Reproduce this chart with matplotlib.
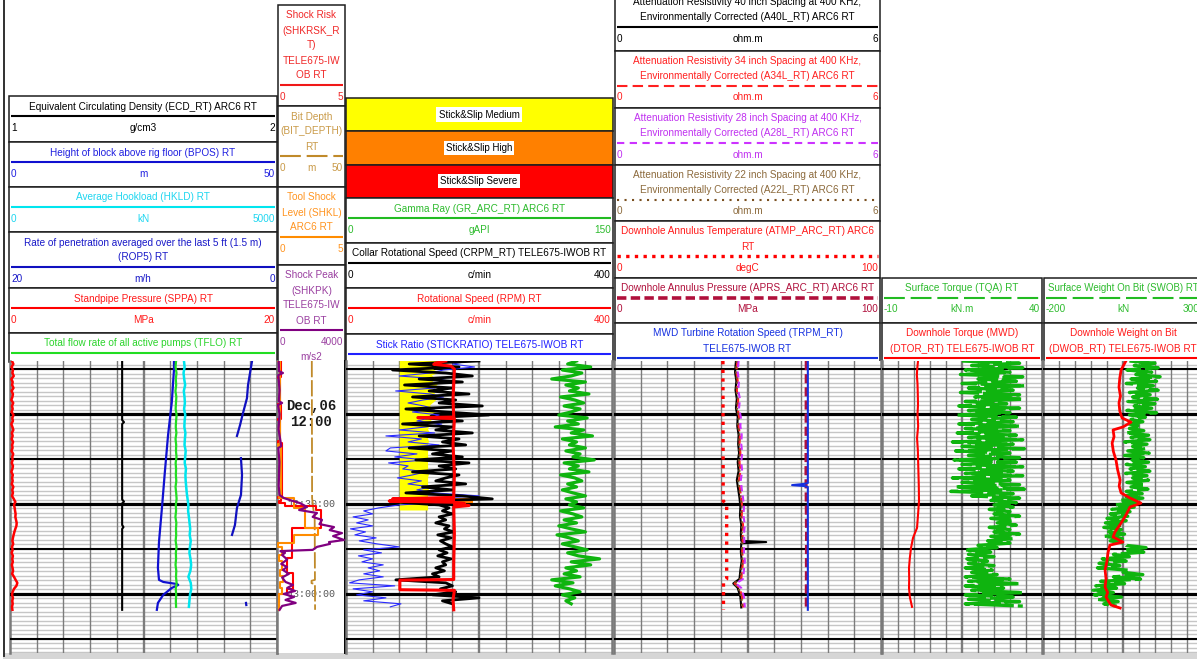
import numpy as np
import matplotlib
matplotlib.use("Agg")
import matplotlib.pyplot as plt
from matplotlib.patches import Rectangle

# ------------------------------------------------------------------
# Time index: minutes after Dec 06 12:00 (increasing downwards)
# ------------------------------------------------------------------
time_marks = [0, 30, 60]
time_mark_labels = ["Dec,06\n12:00", "12:30:00", "13:00:00"]

# ------------------------------------------------------------------
# Track 1 headers and scales
# ------------------------------------------------------------------
t1_titles = ["Equivalent Circulating Density (ECD_RT) ARC6 RT",
             "Height of block above rig floor (BPOS) RT",
             "Average Hookload (HKLD) RT",
             "Rate of penetration averaged over the last 5 ft (1.5 m)\n(ROP5) RT",
             "Standpipe Pressure (SPPA) RT",
             "Total flow rate of all active pumps (TFLO) RT"]
t1_units = ["g/cm3", "m", "kN", "m/h", "MPa", "L/min"]
t1_lo = [1, 0, 0, 20, 0, 0]
t1_hi = [2, 50, 5000, 0, 20, 5000]
t1_scale_shown = [True, True, True, True, True, False]

# ECD (g/cm3)
ecd_t = [-17.7, 2, 2.7, 3.3, 28.5, 29.2, 29.8, 37, 37.7, 38.3, 65.3]
ecd = [1.42, 1.42, 1.427, 1.42, 1.42, 1.427, 1.42, 1.42, 1.425, 1.42, 1.42]
# Block position (m)
bpos_t = [-17.7, -14.7, -4, 7, 19.3, 30.3, 42.7, 51.3, 55.3, 56, 56.7, 57, 58, 60.3, 63, 65.3]
bpos = [30.7, 30.7, 30.3, 29.6, 29.0, 28.5, 27.9, 27.7, 27.9, 28.7, 31.3, 31.5, 30.3, 28.7, 27.7, 27.5]
# ROP5 (m/h), gaps where no value was logged
rop5_t = [-17.7, -9.7, -5.3, -0.3, 3.7, 7.3, np.nan, 14.7, 20.3, 27, 31.3, 37, 40.3, np.nan, 63, 63.7]
rop5 = [1.87, 2.17, 2.25, 2.55, 2.77, 3.0, np.nan, 2.7, 2.62, 2.7, 3.0, 3.15, 3.37, np.nan, 2.32, 2.3]
# Standpipe pressure (MPa), one sample per minute
sppa_t0, sppa_dt = -17.7, 1.0
sppa = [0.15, 0.25, 0.12, 0.22, 0.18, 0.28, 0.10, 0.20, 0.16, 0.26,
        0.12, 0.22, 0.18, 0.10, 0.24, 0.15, 0.20, 0.12, 0.26, 0.17,
        0.22, 0.10, 0.18, 0.25, 0.14, 0.20, 0.12, 0.23, 0.16, 0.19,
        0.11, 0.24, 0.17, 0.20, 0.13, 0.22, 0.18, 0.10, 0.21, 0.16,
        0.20, 0.13, 0.25, 0.17, 0.22, 0.15, 0.28, 0.40, 0.30, 0.35,
        0.38, 0.42, 0.40, 0.45, 0.50, 0.48, 0.40, 0.33, 0.27, 0.22,
        0.18, 0.24, 0.15, 0.20, 0.12, 0.22, 0.17, 0.21, 0.14, 0.19,
        0.23, 0.16, 0.30, 0.42, 0.55, 0.48, 0.30, 0.20, 0.15, 0.22,
        0.17, 0.20, 0.15, 0.18]
# Flow rate (L/min), every 2 min
tflo_t0, tflo_dt = -17.7, 2.0
tflo = [3110, 3100, 3118, 3105, 3112, 3098, 3115, 3108, 3102, 3120,
        3110, 3104, 3116, 3100, 3112, 3108, 3118, 3102, 3110, 3106,
        3114, 3100, 3112, 3120, 3105, 3110, 3098, 3115, 3108, 3112,
        3102, 3118, 3106, 3110, 3100, 3114, 3108, 3120, 3104, 3112,
        3106, 3110]
# Hookload (kN), every 2 min
hkld_t0, hkld_dt = -17.7, 2.0
hkld = [3258, 3270, 3250, 3262, 3280, 3255, 3268, 3275, 3260, 3282,
        3270, 3265, 3285, 3275, 3268, 3290, 3280, 3272, 3295, 3285,
        3290, 3300, 3310, 3325, 3340, 3335, 3350, 3362, 3375, 3365,
        3385, 3370, 3360, 3380, 3392, 3378, 3340, 3385, 3395, 3370,
        3360, 3350]

# ------------------------------------------------------------------
# Track 2 (shock curves + bit depth)
# ------------------------------------------------------------------
t2_titles = ["Shock Risk\n(SHKRSK_R\nT)\nTELE675-IW\nOB RT",
             "Bit Depth\n(BIT_DEPTH)\nRT",
             "Tool Shock\nLevel (SHKL)\nARC6 RT",
             "Shock Peak\n(SHKPK)\nTELE675-IW\nOB RT"]
t2_units = ["", "m", "", "m/s2"]
t2_lo = [0, 0, 0, 0]
t2_hi = [5, 50, 5, 4000]

shkrsk_t = [-17.7, -12.5, -12, -3.5, -3, 1.5, 2, 9, 9.5, 27.5, 28, 29, 29.5, 30.5,
            32, 38, 48, 53, 58.5, 60, 64.3, 65.3]
shkrsk = [0.1, 0.3, 0.05, 0.25, 0.1, 0.3, 0.1, 0.2, 0.05, 0.35, 0.1, 0.3, 0.15, 0.6,
          2.9, 3.2, 1.1, 0.75, 1.2, 0.75, 0.15, 0.15]
shkl_t = [-17.7, 10, 10.5, 27.5, 28, 31.3, 38, 40.3, 43, 44.3, 47, 49, 52, 54, 56,
          58, 60, 62, 65.3]
shkl = [0.05, 0.25, 0.05, 0.3, 0.15, 1.25, 2.05, 3.0, 1.25, 0.1, 0.35, 0.15, 0.4, 0.2,
        0.45, 0.2, 0.35, 0.15, 0.15]
shkpk_t = [-17.7, -14.3, -13.7, -13, -8, -4.3, -3.7, -3, 0, 5,
           10.7, 11.3, 16, 20, 24, 27, 28, 28.7, 29.7, 31,
           32, 33, 34.3, 35.3, 36.7, 37.7, 38.7, 39.7, 40.7, 42,
           42.7, 43.3, 44.3, 45.3, 45.7, 46.3, 47, 48.5, 50, 51,
           52, 53.3, 54.5, 56, 57, 58, 59, 60, 61, 62,
           63, 64, 65.3]
shkpk = [100, 120, 350, 80, 150, 110, 300, 60, 150, 90,
         250, 80, 140, 120, 100, 150, 400, 765, 1353, 1765,
         1300, 2353, 2100, 2647, 2500, 3353, 3100, 3824, 3300, 3941,
         3059, 3118, 2353, 2100, 200, 470, 300, 600, 250, 588,
         350, 700, 300, 500, 941, 600, 1059, 400, 1000, 500,
         1100, 300, 150]
bitd_t = [-17.7, 28, 32, 34, 55.3, 55.6, 56.4, 56.7, 65.3]
bitd = [25.6, 25.8, 26.8, 27.7, 27.9, 25.4, 25.4, 27.9, 28.0]

# ------------------------------------------------------------------
# Track 3 (stick-slip, GR, CRPM, RPM, stick ratio)
# ------------------------------------------------------------------
ss_labels = ["Stick&Slip Medium", "Stick&Slip High", "Stick&Slip Severe"]
t3_titles = ["Gamma Ray (GR_ARC_RT) ARC6 RT",
             "Collar Rotational Speed (CRPM_RT) TELE675-IWOB RT",
             "Rotational Speed (RPM) RT",
             "Stick Ratio (STICKRATIO) TELE675-IWOB RT"]
t3_units = ["gAPI", "c/min", "c/min", "%"]
t3_lo = [0, 0, 0, 0]
t3_hi = [150, 400, 400, 300]
t3_scale_shown = [True, True, True, False]

# medium stick-slip band: from the threshold to the listed right edge
ss_threshold = 60
ss_t0, ss_dt = -18, 1.0
ss_medium_right = [104, 104, 100, 98, 104, 96, 101, 97, 103, 99,
                   95, 100, 96, 102, 98, 94, 97, 103, 95, 92,
                   96, 92, 93, 92, 94, 92, 92, 93, 92, 92,
                   92, 92, 92, 93, 92, 92, 92, 92, 93, 92,
                   92, 92, 92, 93, 92, 92, 92, 92, 92, 92,
                   92]
ss_high_t = [28.0, 29.7]
ss_high_lo = [112, 112]
ss_high_hi = [143, 143]

stick_t0, stick_dt = -17.7, 1.0
stick = [140, 120, 145, 110, 95, 60, 105, 120, 80, 100,
         56, 95, 110, 87, 70, 88, 100, 75, 105, 95,
         80, 108, 90, 60, 100, 45, 85, 70, 105, 50,
         45, 80, 55, 90, 48, 70, 64, 90, 75, 58,
         85, 70, 95, 80, 100, 150, 90, 120, 60, 37,
         20, 30, 8, 25, 12, 30, 5, 22, 10, 34,
         15, 35, 60, 20, 40, 14, 30, 18, 42, 25,
         38, 20, 42, 15, 4, 55, 8, 30, 12, 45,
         20, 62, 50]
crpm_t0, crpm_dt = -17.7, 1.0
crpm = [200, 95, 170, 70, 150, 190, 110, 175, 88, 160,
        125, 185, 100, 165, 140, 205, 90, 150, 215, 120,
        175, 85, 160, 135, 190, 110, 170, 145, 180, 95,
        160, 130, 175, 105, 185, 140, 165, 100, 170, 150,
        135, 180, 115, 160, 90, 175, 220, 70, 140, 155,
        145, 160, 140, 150, 135, 155, 148, 162, 138, 158,
        142, 150, 160, 140, 152, 138, 158, 145, 150, 135,
        148, 130, 140, 75, 150, 160, 142, 165, 130, 200,
        145, 160]
rpm_t = [-17.7, -17.0, -16.6, -16.0, -15.0, -5, 1.0, 1.2, 1.5, 10,
         20, 27.8, 28.3, 28.6, 29.0, 29.4, 29.8, 30.1, 30.5, 31.0,
         40, 50, 55.2, 55.4, 58.6, 58.8, 62, 65.3]
rpm = [150, 135, 132, 158, 163, 161, 162, 108, 163, 161,
       163, 162, 70, 162, 65, 160, 178, 163, 185, 162,
       163, 162, 162, 81, 81, 163, 161, 162]
gr_t0, gr_dt = -17.7, 1.0
gr = [130, 125, 138, 122, 133, 127, 116, 135, 124, 131,
      126, 137, 121, 129, 134, 123, 132, 127, 120, 136,
      125, 131, 118, 134, 127, 139, 122, 130, 126, 135,
      124, 132, 128, 140, 123, 131, 126, 137, 121, 129,
      133, 125, 130, 122, 128, 135, 124, 130, 126, 134,
      121, 128, 133, 123, 130, 120, 127, 135, 119, 126,
      131, 122, 129, 136, 125, 131, 143, 127, 138, 124,
      130, 123, 132, 116, 128, 118, 126, 132, 122, 129,
      124, 127]

# ------------------------------------------------------------------
# Track 4 (resistivity, annulus temperature/pressure, turbine)
# ------------------------------------------------------------------
t4_titles = ["Attenuation Resistivity 40 inch Spacing at 400 KHz,\nEnvironmentally Corrected (A40L_RT) ARC6 RT",
             "Attenuation Resistivity 34 inch Spacing at 400 KHz,\nEnvironmentally Corrected (A34L_RT) ARC6 RT",
             "Attenuation Resistivity 28 inch Spacing at 400 KHz,\nEnvironmentally Corrected (A28L_RT) ARC6 RT",
             "Attenuation Resistivity 22 inch Spacing at 400 KHz,\nEnvironmentally Corrected (A22L_RT) ARC6 RT",
             "Downhole Annulus Temperature (ATMP_ARC_RT) ARC6\nRT",
             "Downhole Annulus Pressure (APRS_ARC_RT) ARC6 RT",
             "MWD Turbine Rotation Speed (TRPM_RT)\nTELE675-IWOB RT"]
t4_units = ["ohm.m", "ohm.m", "ohm.m", "ohm.m", "degC", "MPa", "c/min"]
t4_lo = [0, 0, 0, 0, 0, 0, 0]
t4_hi = [6, 6, 6, 6, 100, 100, 5000]
t4_scale_shown = [True, True, True, True, True, True, False]

res_t = [-17.7, -14, -11, -8, -5, -2, 1, 4, 7, 10, 13, 16, 19, 22, 25, 28, 31, 34,
         37, 40, 42.3, 42.7, 43.1, 46, 49, 52, 55, 56.5, 58, 61, 64.5]
a40l = [2.74, 2.72, 2.75, 2.73, 2.76, 2.74, 2.78, 2.77, 2.80, 2.79, 2.81, 2.78, 2.80,
        2.76, 2.79, 2.82, 2.84, 2.83, 2.86, 2.85, 2.86, 3.42, 2.86, 2.85, 2.87, 2.84,
        2.82, 2.68, 2.78, 2.84, 2.86]
a34l = [2.77, 2.75, 2.78, 2.76, 2.79, 2.78, 2.81, 2.80, 2.83, 2.82, 2.84, 2.82, 2.84,
        2.81, 2.83, 2.86, 2.88, 2.87, 2.90, 2.89, 2.89, 2.90, 2.89, 2.88, 2.90, 2.88,
        2.86, 2.71, 2.82, 2.88, 2.90]
a28l = [2.80, 2.78, 2.81, 2.79, 2.83, 2.81, 2.85, 2.84, 2.87, 2.86, 2.88, 2.86, 2.88,
        2.85, 2.87, 2.90, 2.92, 2.91, 2.94, 2.92, 2.93, 2.93, 2.93, 2.92, 2.94, 2.92,
        2.90, 2.74, 2.86, 2.92, 2.94]
a22l = [2.76, 2.74, 2.77, 2.75, 2.78, 2.76, 2.80, 2.79, 2.82, 2.81, 2.83, 2.80, 2.82,
        2.79, 2.82, 2.85, 2.87, 2.85, 2.88, 2.87, 2.88, 2.88, 2.88, 2.87, 2.89, 2.86,
        2.84, 2.70, 2.80, 2.86, 2.88]
atmp_t = [-17.7, 29, 30, 55, 56, 65.3]
atmp = [40.8, 40.9, 42.2, 42.2, 41.0, 41.0]
aprs_t = [-17.7, 20, 40, 65.3]
aprs = [72.0, 71.9, 72.1, 72.0]
trpm_t = [-17.7, 23.0, 23.3, 23.7, 24.0, 24.3, 65.3]
trpm = [3630, 3630, 3560, 3335, 3560, 3630, 3630]

# ------------------------------------------------------------------
# Tracks 5 and 6 (torque, weight on bit)
# ------------------------------------------------------------------
t5_titles = ["Surface Torque (TQA) RT", "Downhole Torque (MWD)\n(DTOR_RT) TELE675-IWOB RT"]
t5_units = ["kN.m", "kN.m"]
t5_lo = [-10, 0]
t5_hi = [40, 50]
t6_titles = ["Surface Weight On Bit (SWOB) RT", "Downhole Weight on Bit\n(DWOB_RT) TELE675-IWOB RT"]
t6_units = ["kN", "kN"]
t6_lo = [-200, -200]
t6_hi = [300, 300]

tqa_t0, tqa_dt = -17.7, 0.75
tqa = [15, 33, 18, 34, 16, 30, 14.5, 34, 20, 32,
       15, 34.5, 17, 31, 14.5, 33, 19, 34, 16, 29,
       14, 33, 17, 30, 13.5, 32, 18, 31, 14, 33,
       16, 30, 13.5, 32, 17, 34, 12, 31, 15, 34.5,
       13, 30, 17, 33, 12.5, 32, 15, 34, 14, 31,
       16, 34, 12, 30, 15, 33, 13, 34.5, 11.5, 31,
       18, 33, 24, 32, 25, 31, 23.5, 30, 25, 33,
       24, 31, 26, 32, 23.5, 30, 25, 33, 24, 31,
       23, 30, 20, 26, 16, 24, 17, 25, 16.5, 23,
       17, 25, 16, 24.5, 18, 26, 16, 30, 17, 33,
       16, 28, 18, 34, 16, 31, 17, 33, 16, 34]
dtor_t = [-17.7, -15, -13, -10, -6, -3, 0, 4, 8, 12, 16, 20, 24, 29, 33, 38, 41.3,
          44.7, 48, 51.3, 55, 58, 61, 64.3]
dtor = [11.25, 11.0, 10.9, 11.1, 11.2, 11.25, 11.1, 11.3, 10.95, 11.2, 11.3, 11.4,
        11.5, 11.56, 11.3, 10.94, 9.69, 9.06, 8.7, 8.44, 8.5, 8.44, 8.7, 9.38]
swob_t0, swob_dt = -17.7, 0.75
swob = [70, 150, 85, 160, 62, 140, 90, 166, 75, 155,
        60, 145, 95, 160, 70, 135, 80, 158, 65, 150,
        85, 140, 62, 155, 70, 120, 75, 112, 68, 105,
        70, 115, 60, 130, 75, 134, 55, 125, 80, 120,
        65, 132, 55, 115, 78, 130, 60, 120, 72, 134,
        58, 125, 80, 130, 62, 118, 75, 128, 60, 110,
        50, 112, 40, 100, 25, 85, 15, 72, 10, 65,
        0, 60, -5, 50, -10, 45, 5, 55, -8, 48,
        10, 55, 60, 122, 55, 115, 20, 70, -15, 60,
        -25, 40, -30, 65, 50, 112, 20, 105, -20, 55,
        -35, 30, -44, 20, -40, 45, -30, 35, -10, 30]
dwob_t = [-17.7, -14.7, -12, -9, -6, -3.7, -1, 1.3, 2.7, 4.3,
          5.3, 7.5, 9.7, 12.5, 15.3, 18.5, 22, 24, 26.3, 28,
          29.7, 31, 32.5, 34.3, 37, 39.3, 41, 42.7, 43.7, 46.3,
          49, 52, 55, 57.7, 59.5, 61, 62.5, 63.7, 64.7]
dwob = [59, 44, 40, 37.5, 42, 37.5, 40, 47, 75, 50,
        19, 22, 16, 20, 28, 33, 41, 38, 44, 72,
        106, 72, 65, 56, 40, 25, 19, 50, 9, 3,
        0, -6, -3, -6, 2, -3, 5, 12.5, 41]

# ==================================================================
# Drawing
# ==================================================================
W, H, DPI = 1197, 659, 100
PLOT_Y0, PLOT_Y1 = 361, 653
T_TOP, T_BOT = -17.7, 79.7
FONT = ["Liberation Sans", "DejaVu Sans"]
MONO = ["Liberation Mono", "DejaVu Sans Mono"]
TSIZE = 7.2

fig = plt.figure(figsize=(W / DPI, H / DPI), dpi=DPI)
fig.patch.set_facecolor("white")
bg = fig.add_axes([0, 0, 1, 1])
bg.set_xlim(0, W)
bg.set_ylim(H, 0)
bg.axis("off")
renderer = fig.canvas.get_renderer()


def px_axes(x0, x1, y0=PLOT_Y0, y1=PLOT_Y1):
    return fig.add_axes([x0 / W, 1 - y1 / H, (x1 - x0) / W, (y1 - y0) / H])


def fit_text(x, y, s, color, maxw, size=TSIZE, ha="center"):
    t = bg.text(x, y, s, color=color, ha=ha, va="center", fontsize=size,
                family=FONT, zorder=4)
    while t.get_window_extent(renderer).width > maxw and size > 5:
        size -= 0.2
        t.set_fontsize(size)
    return t


def fmt(v):
    return f"{v:g}"


def header_box(x0, x1, top, bottom, title, tcolor, lcolor, ls, lw,
               lo=None, unit="", hi=None, unit_below=False):
    bg.add_patch(Rectangle((x0, top), x1 - x0, bottom - top, facecolor="white",
                           edgecolor="#1e1e1e", lw=1.1, zorder=1))
    lines = title.split("\n")
    for k, s in enumerate(lines):
        fit_text((x0 + x1) / 2, top + 10.5 + 15 * k, s, tcolor, x1 - x0 - 4)
    yl = top + 10.5 + 15 * (len(lines) - 1) + 9.5
    bg.plot([x0 + 2, x1 - 2], [yl, yl], color=lcolor, ls=ls, lw=lw,
            solid_capstyle="butt", dash_capstyle="butt", zorder=3)
    if lo is not None:
        ys = yl + 12
        kw = dict(color=tcolor, va="center", fontsize=TSIZE, family=FONT, zorder=4)
        bg.text(x0 + 2, ys, fmt(lo), ha="left", **kw)
        bg.text(x1 - 2, ys, fmt(hi), ha="right", **kw)
        bg.text((x0 + x1) / 2, ys + (15 if unit_below else 0), unit, ha="center", **kw)


def boxes(tops, last_bottom):
    return list(zip(tops, tops[1:] + [last_bottom]))


# ---- line styles ----
SOLID = "-"
LONGDASH = (0, (10, 2.8))
DASH34 = (0, (5, 2.5))
DASH28 = (0, (3.5, 2.6))
DOT22 = (0, (1, 2.6))
DOTTEMP = (0, (1, 1.6))
DASHPRS = (0, (2.6, 1.2))

# ---- headers: track 1 ----
T1_X = (9, 277)
t1_tcol = ["black", "#2020e0", "#1ed6f0", "#1818c8", "#ff1a1a", "#2bd42b"]
t1_lcol = ["black", "#1010d0", "#00e5ee", "#1010c0", "#ff0000", "#22dd22"]
for i, (top, bot) in enumerate(boxes([96, 142, 187, 232, 288, 333], 362)):
    header_box(T1_X[0], T1_X[1], top, bot, t1_titles[i], t1_tcol[i], t1_lcol[i], SOLID, 1.5,
               *((t1_lo[i], t1_units[i], t1_hi[i]) if t1_scale_shown[i] else (None, "", None)))

# ---- headers: track 2 ----
T2_X = (278, 345)
t2_tcol = ["#f02828", "#c99a48", "#ff9420", "#9a3fa0"]
t2_lcol = ["#f01818", "#c08a2a", "#ff8c00", "#800080"]
t2_ls = [SOLID, LONGDASH, SOLID, SOLID]
for i, (top, bot) in enumerate(boxes([5, 106, 187, 265], 362)):
    header_box(T2_X[0], T2_X[1], top, bot, t2_titles[i], t2_tcol[i], t2_lcol[i], t2_ls[i], 1.5,
               t2_lo[i], t2_units[i], t2_hi[i], unit_below=(i == 3))

# ---- headers: track 3 ----
T3_X = (346, 613)
ss_colors = ["#ffff00", "#ff8000", "#ff0000"]
for (top, bot), lab, fc in zip(boxes([98, 131, 164.5], 197.5), ss_labels, ss_colors):
    bg.add_patch(Rectangle((T3_X[0], top), T3_X[1] - T3_X[0], bot - top, facecolor=fc,
                           edgecolor="#1e1e1e", lw=1.1, zorder=1))
    bg.text(479, (top + bot) / 2, lab, ha="center", va="center", fontsize=7, family=FONT,
            zorder=4, bbox=dict(facecolor="white", edgecolor="none", pad=1.6))
t3_tcol = ["#2dbb2d", "black", "#ff1a1a", "#2020ff"]
t3_lcol = ["#22bb22", "black", "#ff0000", "#2020ff"]
for i, (top, bot) in enumerate(boxes([198, 243, 288, 334], 362)):
    header_box(T3_X[0], T3_X[1], top, bot, t3_titles[i], t3_tcol[i], t3_lcol[i], SOLID, 1.5,
               *((t3_lo[i], t3_units[i], t3_hi[i]) if t3_scale_shown[i] else (None, "", None)))

# ---- headers: track 4 ----
T4_X = (615, 880)
t4_tcol = ["black", "#ff2020", "#c030f0", "#8c6a3c", "#ff1a1a", "#b0103c", "#1530e0"]
t4_lcol = ["black", "#ff2020", "#cc33ff", "#7a5020", "#ff0000", "#b0103c", "#1530e0"]
t4_ls = [SOLID, DASH34, DASH28, DOT22, DOTTEMP, DASHPRS, SOLID]
t4_lw = [1.5, 1.5, 1.5, 1.5, 2.4, 2.6, 1.5]
for i, (top, bot) in enumerate(boxes([-8.5, 50.5, 107.5, 164.5, 221, 277.5, 323], 362)):
    header_box(T4_X[0], T4_X[1], top, bot, t4_titles[i], t4_tcol[i], t4_lcol[i], t4_ls[i], t4_lw[i],
               *((t4_lo[i], t4_units[i], t4_hi[i]) if t4_scale_shown[i] else (None, "", None)))

# ---- headers: tracks 5 and 6 ----
T5_X = (882, 1042)
T6_X = (1044, 1202)
for X, titles, units, lo, hi in ((T5_X, t5_titles, t5_units, t5_lo, t5_hi),
                                 (T6_X, t6_titles, t6_units, t6_lo, t6_hi)):
    (a0, a1), (b0, b1) = boxes([277.5, 323], 362)
    header_box(X[0], X[1], a0, a1, titles[0], "#2dbb2d", "#22bb22", LONGDASH, 1.5,
               lo[0], units[0], hi[0])
    header_box(X[0], X[1], b0, b1, titles[1], "#ff1a1a", "#ff0000", SOLID, 1.5)

# outer frame pieces
bg.plot([3.5, 3.5], [0, 656], color="#303030", lw=1.4, zorder=5)
bg.add_patch(Rectangle((3, 653), W, 6, facecolor="#d6d6d6", edgecolor="none", zorder=0))


# ---- plot tracks ----
def grid_track(x0, x1):
    ax = px_axes(x0, x1)
    ax.set_xlim(0, 10)
    ax.set_ylim(T_BOT, T_TOP)
    ax.set_xticks([])
    ax.set_yticks([])
    for t in np.arange(-16.5, T_BOT, 1.5):
        ax.axhline(t, color="#c6c6c6", lw=1.0, zorder=1)
    for k in range(1, 10):
        ax.axvline(k, color="#7c7c7c", lw=1.7 if k == 5 else 1.0, zorder=2)
    for t in np.arange(-15, T_BOT, 15):
        ax.axhline(t, color="black", lw=2.3 if t % 30 == 0 else 1.5, zorder=3)
    for side in ("top", "bottom"):
        ax.spines[side].set_visible(False)
    for side in ("left", "right"):
        ax.spines[side].set_color("#7a7a7a")
        ax.spines[side].set_linewidth(1.8)
    return ax


def curve_axes(x0, x1, lo, hi):
    ax = px_axes(x0, x1)
    ax.set_xlim(lo, hi)
    ax.set_ylim(T_BOT, T_TOP)
    ax.axis("off")
    return ax


def reg_t(t0, dt, vals):
    return t0 + dt * np.arange(len(vals))


P1 = (10, 277)
P2 = (277, 345)
P3 = (346, 612)
P4 = (614, 881)
P5 = (882, 1042)
P6 = (1043, 1203)

grid_track(*P1)
ax2 = px_axes(*P2)
ax2.set_xlim(0, 1)
ax2.set_ylim(T_BOT, T_TOP)
ax2.set_xticks([])
ax2.set_yticks([])
for side in ("top", "bottom"):
    ax2.spines[side].set_visible(False)
ax2.spines["left"].set_color("#7a7a7a")
ax2.spines["left"].set_linewidth(1.8)
ax2.spines["right"].set_color("black")
ax2.spines["right"].set_linewidth(1.4)
for t, lab in zip(time_marks, time_mark_labels):
    big = "\n" in lab
    ax2.text(0.5, t, lab, ha="center", va="center", family=MONO,
             fontsize=10 if big else 7.2, fontweight="bold" if big else "normal",
             color="#1a1a1a" if big else "#555555", linespacing=1.15, zorder=1)
grid_track(*P3)
grid_track(*P4)
grid_track(*P5)
grid_track(*P6)

# track 1 curves
ax = curve_axes(*P1, t1_lo[4], t1_hi[4])
ax.plot(sppa, reg_t(sppa_t0, sppa_dt, sppa), color="#ff0000", lw=1.8)
ax = curve_axes(*P1, t1_lo[0], t1_hi[0])
ax.plot(ecd, ecd_t, color="black", lw=1.5)
ax = curve_axes(*P1, t1_lo[1], t1_hi[1])
ax.plot(bpos, bpos_t, color="#1010d0", lw=1.6)
ax = curve_axes(*P1, t1_lo[5], t1_hi[5])
ax.plot(tflo, reg_t(tflo_t0, tflo_dt, tflo), color="#22dd22", lw=1.6)
ax = curve_axes(*P1, t1_lo[2], t1_hi[2])
ax.plot(hkld, reg_t(hkld_t0, hkld_dt, hkld), color="#00e5ee", lw=1.8)
ax = curve_axes(*P1, t1_lo[3], t1_hi[3])
ax.plot(rop5, rop5_t, color="#1010c0", lw=1.6)

# track 2 curves
ax = curve_axes(*P2, t2_lo[1], t2_hi[1])
ax.plot(bitd, bitd_t, color="#c08a2a", lw=1.3, ls=(0, (9, 1.6)))
ax = curve_axes(*P2, t2_lo[0], t2_hi[0])
ax.plot(shkrsk, shkrsk_t, color="#ff0000", lw=1.5, drawstyle="steps-post")
ax = curve_axes(*P2, t2_lo[2], t2_hi[2])
ax.plot(shkl, shkl_t, color="#ff8c00", lw=1.5, drawstyle="steps-post")
ax = curve_axes(*P2, t2_lo[3], t2_hi[3])
ax.plot(shkpk, shkpk_t, color="#800080", lw=1.6)

# track 3 curves
ax_sr = curve_axes(*P3, t3_lo[3], t3_hi[3])
ax_sr.fill_betweenx(reg_t(ss_t0, ss_dt, ss_medium_right), ss_threshold, ss_medium_right,
                    color="#ffff00", lw=0, zorder=1)
ax_sr.fill_betweenx(ss_high_t, ss_high_lo, ss_high_hi, color="#ff8000", lw=0, zorder=1)
ax_sr.plot(stick, reg_t(stick_t0, stick_dt, stick), color="#2a2aff", lw=0.8, zorder=2)
ax = curve_axes(*P3, t3_lo[1], t3_hi[1])
ax.plot(crpm, reg_t(crpm_t0, crpm_dt, crpm), color="black", lw=2.0)
ax = curve_axes(*P3, t3_lo[2], t3_hi[2])
ax.plot(rpm, rpm_t, color="#ff0000", lw=2.2)
ax = curve_axes(*P3, t3_lo[0], t3_hi[0])
ax.plot(gr, reg_t(gr_t0, gr_dt, gr), color="#0fb40f", lw=2.3)

# track 4 curves
ax = curve_axes(*P4, t4_lo[0], t4_hi[0])
ax.plot(a40l, res_t, color="black", lw=1.5)
ax.plot(a34l, res_t, color="#ff2020", lw=1.5, ls=(0, (4, 2)))
ax.plot(a22l, res_t, color="#7a5020", lw=1.5, ls=(0, (1, 1.5)))
ax.plot(a28l, res_t, color="#cc33ff", lw=1.5, ls=(0, (3, 2)))
ax = curve_axes(*P4, t4_lo[4], t4_hi[4])
ax.plot(atmp, atmp_t, color="#ff0000", lw=2.4, ls=DOTTEMP)
ax = curve_axes(*P4, t4_lo[5], t4_hi[5])
ax.plot(aprs, aprs_t, color="#b0103c", lw=2.2, ls=(0, (3, 1.3)))
ax = curve_axes(*P4, t4_lo[6], t4_hi[6])
ax.plot(trpm, trpm_t, color="#1530e0", lw=1.5)

# track 5 curves
ax = curve_axes(*P5, t5_lo[1], t5_hi[1])
ax.plot(dtor, dtor_t, color="#ff0000", lw=1.5)
ax = curve_axes(*P5, t5_lo[0], t5_hi[0])
ax.plot(tqa, reg_t(tqa_t0, tqa_dt, tqa), color="#0fb40f", lw=2.4, ls=(0, (12, 1.2)))

# track 6 curves
ax = curve_axes(*P6, t6_lo[0], t6_hi[0])
ax.plot(swob, reg_t(swob_t0, swob_dt, swob), color="#0fb40f", lw=2.4, ls=(0, (12, 1.2)))
ax = curve_axes(*P6, t6_lo[1], t6_hi[1])
ax.plot(dwob, dwob_t, color="#ff0000", lw=2.0)

fig.savefig("out.png", dpi=DPI, facecolor="white")
